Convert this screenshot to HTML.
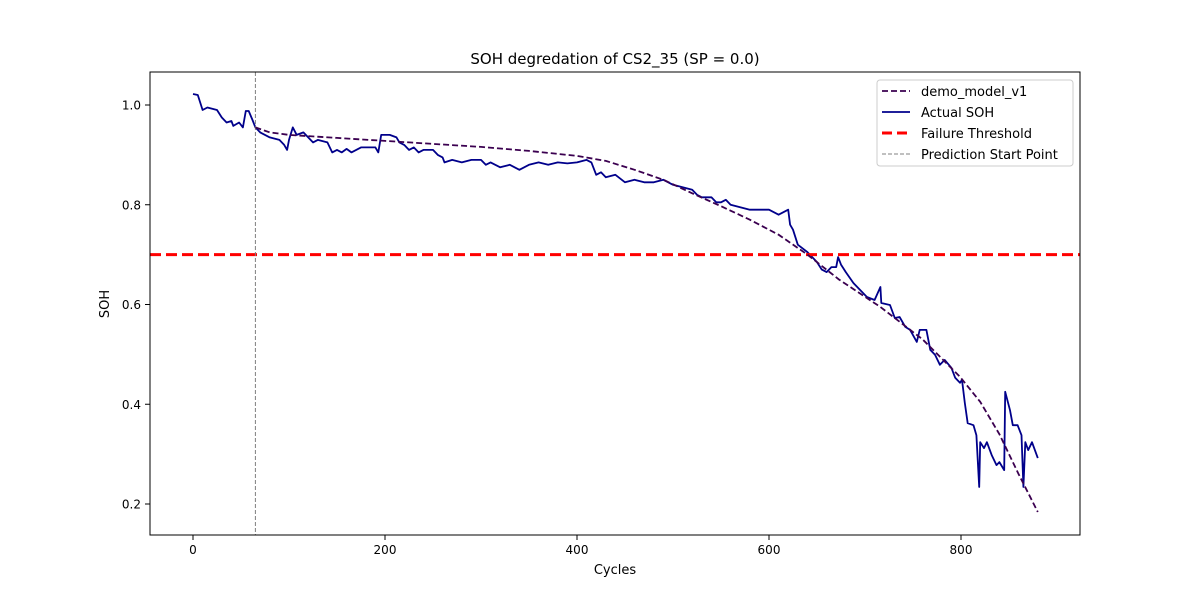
<!DOCTYPE html>
<html><head><meta charset="utf-8"><style>
body{margin:0;background:#fff;}
svg text{font-family:"DejaVu Sans","Liberation Sans",sans-serif;fill:#000;}
</style></head><body>
<svg id="chart" width="1200" height="600" xmlns="http://www.w3.org/2000/svg">
<rect x="0" y="0" width="1200" height="600" fill="#fff"/>
<g id="plot"></g>
<rect x="150" y="72" width="930" height="463" fill="none" stroke="#000" stroke-width="1"/>
<text x="615" y="64" font-size="15" text-anchor="middle">SOH degredation of CS2_35 (SP = 0.0)</text>
<text x="615" y="574" font-size="13" text-anchor="middle">Cycles</text>
<text x="109" y="304" font-size="13" text-anchor="middle" transform="rotate(-90 109 304)">SOH</text>
<g>
<rect x="877" y="80" width="196" height="86" rx="3" fill="#fff" stroke="#ccc" stroke-width="1"/>
<line x1="882" y1="91" x2="910" y2="91" stroke="#3b0050" stroke-width="1.8" stroke-dasharray="6,3"/>
<text x="921" y="96" font-size="13">demo_model_v1</text>
<line x1="882" y1="112" x2="910" y2="112" stroke="#00008b" stroke-width="1.8"/>
<text x="921" y="117" font-size="13">Actual SOH</text>
<line x1="882" y1="133" x2="910" y2="133" stroke="#ff0000" stroke-width="3" stroke-dasharray="10,5"/>
<text x="921" y="138" font-size="13">Failure Threshold</text>
<line x1="882" y1="154" x2="910" y2="154" stroke="#808080" stroke-width="1" stroke-dasharray="4,2"/>
<text x="921" y="159" font-size="13">Prediction Start Point</text>
</g>
</svg>
<script>
const xTicks=[0,200,400,600,800];
const yTicks=[0.2,0.4,0.6,0.8,1.0];
const yTickLabels=["0.2","0.4","0.6","0.8","1.0"];
const actualCycles=[0,5,10,15,25,30,35,40,42,48,52,55,58,62,65,70,75,80,90,95,98,100,104,108,115,120,125,130,140,145,150,155,160,165,170,175,190,193,196,205,212,215,220,225,230,235,240,250,255,260,262,270,280,290,300,305,310,320,330,340,345,350,360,370,380,390,400,410,415,420,425,430,440,450,460,470,480,490,500,510,520,525,530,540,545,550,555,560,570,580,600,605,610,620,622,625,630,640,645,650,655,660,665,670,672,675,680,688,702,710,716,717,726,731,736,742,747,754,757,764,768,773,778,783,790,794,799,801,804,807,813,816,819,820,824,827,832,837,840,845,846,851,854,859,863,865,867,870,874,880];
const actualSoh=[1.022,1.02,0.99,0.995,0.99,0.975,0.965,0.968,0.958,0.965,0.955,0.988,0.988,0.97,0.955,0.945,0.94,0.935,0.93,0.92,0.91,0.93,0.955,0.94,0.945,0.935,0.925,0.93,0.925,0.905,0.91,0.905,0.912,0.905,0.91,0.915,0.915,0.905,0.94,0.94,0.935,0.925,0.92,0.91,0.915,0.905,0.91,0.91,0.9,0.895,0.885,0.89,0.885,0.89,0.89,0.88,0.885,0.875,0.88,0.87,0.875,0.88,0.885,0.88,0.885,0.883,0.885,0.89,0.885,0.86,0.865,0.855,0.86,0.845,0.85,0.845,0.845,0.85,0.84,0.835,0.83,0.82,0.815,0.815,0.805,0.805,0.81,0.8,0.795,0.79,0.79,0.785,0.78,0.79,0.76,0.75,0.72,0.705,0.695,0.685,0.67,0.665,0.675,0.675,0.695,0.68,0.665,0.643,0.615,0.609,0.635,0.603,0.599,0.573,0.575,0.555,0.549,0.525,0.549,0.549,0.509,0.499,0.479,0.489,0.473,0.453,0.443,0.449,0.403,0.362,0.358,0.338,0.234,0.324,0.312,0.324,0.298,0.278,0.284,0.268,0.425,0.388,0.358,0.358,0.338,0.234,0.324,0.308,0.324,0.292];
const modelCycles=[65,80,100,150,200,250,300,350,400,430,460,490,520,550,580,610,640,673,716,760,799,820,840,860,880];
const modelSoh=[0.955,0.945,0.94,0.934,0.928,0.922,0.916,0.908,0.898,0.888,0.87,0.85,0.823,0.797,0.77,0.74,0.7,0.65,0.595,0.53,0.455,0.405,0.34,0.26,0.184];
const failureThreshold=[0.7];
const predictionStart=[65];

const X=c=>193+c*0.96;
const Y=v=>105+(1-v)*498.75;
const NS="http://www.w3.org/2000/svg";
const svg=document.getElementById('chart');
const plot=document.getElementById('plot');
function mk(tag,attrs,parent){const e=document.createElementNS(NS,tag);for(const k in attrs)e.setAttribute(k,attrs[k]);(parent||svg).appendChild(e);return e;}

xTicks.forEach(t=>{
  const l=mk('line',{x1:X(t),x2:X(t),y1:535,y2:540,stroke:'#000'});
  
  
  const tx=mk('text',{x:X(t),y:554,'font-size':12,'text-anchor':'middle'});
  tx.textContent=String(t);
  
  
});
yTicks.forEach((t,i)=>{
  const l=mk('line',{x1:145,x2:150,y1:Y(t),y2:Y(t),stroke:'#000'});
  
  
  const tx=mk('text',{x:141,y:Y(t)+4.5,'font-size':12,'text-anchor':'end'});
  tx.textContent=yTickLabels[i];
  
  
});

const pts=(xs,ys)=>xs.map((c,i)=>X(c).toFixed(1)+','+Y(ys[i]).toFixed(1)).join(' ');

const act=mk('polyline',{points:pts(actualCycles,actualSoh),fill:'none',stroke:'#00008b','stroke-width':1.8,'stroke-linejoin':'round'},plot);



const thr=mk('line',{x1:150,x2:1080,y1:Y(failureThreshold[0]),y2:Y(failureThreshold[0]),stroke:'#ff0000','stroke-width':3,'stroke-dasharray':'11,5'},plot);



const ps=mk('line',{x1:X(predictionStart[0]),x2:X(predictionStart[0]),y1:72,y2:535,stroke:'#808080','stroke-width':1,'stroke-dasharray':'4,2'},plot);



const mod=mk('polyline',{points:pts(modelCycles,modelSoh),fill:'none',stroke:'#3b0050','stroke-width':1.8,'stroke-dasharray':'6,3'},plot);


</script>
</body></html>
